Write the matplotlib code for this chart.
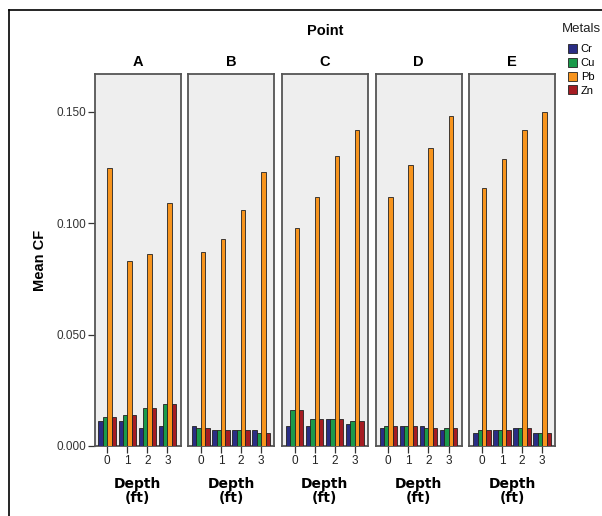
import matplotlib
matplotlib.use("Agg")
import matplotlib.pyplot as plt
import numpy as np
from matplotlib.patches import Patch
from matplotlib.lines import Line2D

points = ["A", "B", "C", "D", "E"]
depths = ["0", "1", "2", "3"]
metals = ["Cr", "Cu", "Pb", "Zn"]

cr = {"A": [0.011, 0.011, 0.008, 0.009], "B": [0.009, 0.007, 0.007, 0.007],
      "C": [0.009, 0.009, 0.012, 0.010], "D": [0.008, 0.009, 0.009, 0.007],
      "E": [0.006, 0.007, 0.008, 0.006]}
cu = {"A": [0.013, 0.014, 0.017, 0.019], "B": [0.008, 0.007, 0.007, 0.006],
      "C": [0.016, 0.012, 0.012, 0.011], "D": [0.009, 0.009, 0.008, 0.008],
      "E": [0.007, 0.007, 0.008, 0.006]}
pb = {"A": [0.125, 0.083, 0.086, 0.109], "B": [0.087, 0.093, 0.106, 0.123],
      "C": [0.098, 0.112, 0.130, 0.142], "D": [0.112, 0.126, 0.134, 0.148],
      "E": [0.116, 0.129, 0.142, 0.150]}
zn = {"A": [0.013, 0.014, 0.017, 0.019], "B": [0.008, 0.007, 0.007, 0.006],
      "C": [0.016, 0.012, 0.012, 0.011], "D": [0.009, 0.009, 0.008, 0.008],
      "E": [0.007, 0.007, 0.008, 0.006]}
series = [cr, cu, pb, zn]
colors = ["#2a2d84", "#1a9a4a", "#f7941d", "#a51c22"]

W, H = 602, 516
fig = plt.figure(figsize=(W / 100, H / 100), dpi=100)
plt.rcParams['font.family'] = ['Liberation Sans', 'DejaVu Sans']

left0 = 94.5
pw = 86
step = 93.7
top_px, bot_px = 74, 446

bw = 0.2175
x = np.arange(len(depths))
axes = []
for i, p in enumerate(points):
    l = (left0 + i * step) / W
    ax = fig.add_axes([l, 1 - bot_px / H, pw / W, (bot_px - top_px) / H])
    ax.set_facecolor("#eeeeee")
    for j, s in enumerate(series):
        ax.bar(x + (j - 1.5) * bw, s[p], width=bw, color=colors[j],
               edgecolor="#222222", linewidth=0.6, zorder=3)
    ax.set_xlim(-0.63, 3.65)
    ax.set_ylim(0, 0.167)
    ax.set_xticks(x)
    ax.set_xticklabels(depths, fontsize=8.5, color="#222222")
    ax.tick_params(axis="x", length=5, width=0.9, color="#333333", pad=1.5)
    for sp in ax.spines.values():
        sp.set_color("#555555")
        sp.set_linewidth(1.3)
    ax.set_title(p, fontsize=10.5, fontweight="bold", pad=6)
    ax.set_xlabel("Depth\n(ft)", fontsize=10, fontweight="bold",
                  family="DejaVu Sans", linespacing=1.0, labelpad=7)
    if i == 0:
        ax.set_yticks([0, 0.05, 0.10, 0.15])
        ax.set_yticklabels(["0.000", "0.050", "0.100", "0.150"], fontsize=8.5,
                           color="#333333")
        ax.tick_params(axis="y", length=5, width=0.9, color="#333333", pad=1)
        ax.set_ylabel("Mean CF", fontsize=10.5, fontweight="bold", labelpad=7)
    else:
        ax.set_yticks([])
    axes.append(ax)

fig.text(325 / W, 1 - 31 / H, "Point", fontsize=10.5, fontweight="bold",
         ha="center", va="center")

fig.text(562 / W, 1 - 29 / H, "Metals", fontsize=9.5, ha="left", va="center",
         color="#222222")
handles = [Patch(facecolor=c, edgecolor="#222222", linewidth=0.6) for c in colors]
fig.legend(handles, metals, loc="upper left", bbox_to_anchor=(568 / W, 1 - 44 / H),
           frameon=False, fontsize=8, handlelength=0.85, handleheight=0.85,
           handletextpad=0.3, labelspacing=0.32, borderpad=0, borderaxespad=0)

fy = 1 - 9.5 / H
fx = 8.5 / W
fig.add_artist(Line2D([fx, fx], [0, fy], color="black", linewidth=1.2,
                      transform=fig.transFigure))
fig.add_artist(Line2D([fx, 1], [fy, fy], color="black", linewidth=1.2,
                      transform=fig.transFigure))

fig.savefig("out.png", dpi=100)
